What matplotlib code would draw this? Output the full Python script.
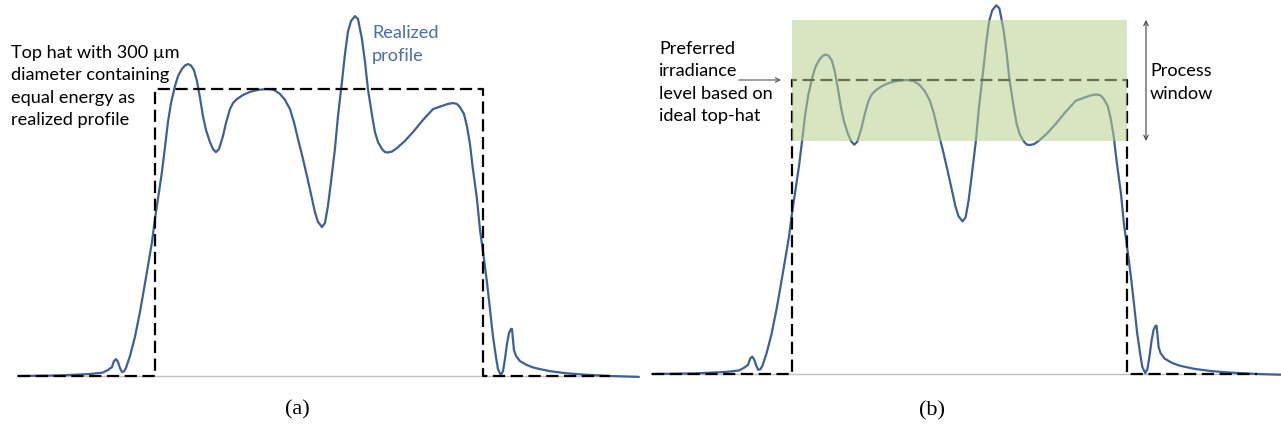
import matplotlib
matplotlib.use("Agg")
import matplotlib.pyplot as plt
from matplotlib.patches import Rectangle

# realized beam profile, x in um from beam centre, y normalised to top-hat level
prof_x = [-275.3, -236.9, -209.4, -197.5, -193.0, -189.3, -187.5, -185.6, -183.8, -182.0,
          -180.2, -178.3, -176.5, -172.8, -168.3, -163.7, -160.0, -156.4, -152.7, -150.0,
          -146.3, -143.6, -140.8, -138.1, -135.3, -131.7, -128.9, -125.3, -122.5, -119.8,
          -117.1, -114.3, -111.6, -108.8, -106.1, -103.3, -99.7, -96.9, -94.2, -91.4,
          -87.8, -85.0, -81.4, -78.6, -75.0, -69.5, -63.1, -55.8, -47.6, -41.2,
          -35.7, -31.1, -26.5, -22.9, -19.2, -14.6, -11.0, -7.3, -3.7, -0.9,
          2.7, 5.5, 8.2, 11.0, 14.6, 17.4, 21.0, 23.8, 26.5, 29.3,
          32.9, 35.7, 39.3, 42.1, 44.8, 48.5, 51.2, 54.0, 57.6, 60.4,
          63.1, 66.8, 71.3, 78.6, 86.0, 95.1, 104.3, 112.5, 118.0, 122.5,
          126.2, 128.9, 132.6, 135.3, 138.1, 140.8, 144.5, 147.2, 150.9, 153.6,
          156.4, 159.1, 161.9, 163.7, 166.4, 168.3, 170.1, 171.9, 173.8, 175.6,
          176.5, 177.4, 178.3, 180.2, 183.8, 190.2, 195.7, 202.1, 211.2, 225.0,
          241.4, 266.1, 292.6]
prof_y = [0.000, 0.002, 0.007, 0.012, 0.021, 0.031, 0.052, 0.059, 0.049, 0.028,
          0.014, 0.016, 0.028, 0.070, 0.136, 0.223, 0.303, 0.383, 0.467, 0.547,
          0.641, 0.711, 0.798, 0.885, 0.951, 1.010, 1.045, 1.070, 1.082, 1.087,
          1.082, 1.066, 1.028, 0.969, 0.906, 0.857, 0.815, 0.791, 0.780, 0.791,
          0.836, 0.882, 0.930, 0.951, 0.965, 0.979, 0.990, 0.997, 1.000, 0.997,
          0.983, 0.962, 0.930, 0.885, 0.826, 0.756, 0.697, 0.634, 0.571, 0.537,
          0.519, 0.533, 0.592, 0.676, 0.791, 0.906, 1.024, 1.122, 1.199, 1.237,
          1.254, 1.244, 1.174, 1.094, 1.000, 0.909, 0.850, 0.815, 0.791, 0.780,
          0.779, 0.782, 0.794, 0.819, 0.850, 0.892, 0.930, 0.941, 0.948, 0.951,
          0.948, 0.937, 0.913, 0.871, 0.808, 0.721, 0.617, 0.512, 0.408, 0.328,
          0.233, 0.139, 0.066, 0.024, 0.003, 0.017, 0.059, 0.111, 0.150, 0.164,
          0.164, 0.129, 0.091, 0.070, 0.052, 0.038, 0.030, 0.024, 0.017, 0.010,
          0.005, 0.000, -0.003]

# ideal top hat (300 um diameter)
hat_x = [-275, -150, -150, 150, 150, 266]
hat_y = [0, 0, 1, 1, 0, 0]

baseline_x = [-275, 290]
window = [0.793, 1.204]   # process window (normalised irradiance)

blue = '#3f6096'
txt_font = ['Lato', 'DejaVu Sans']

fig = plt.figure(figsize=(12.81, 4.27), dpi=100)
axa = fig.add_axes([0, 0, 640 / 1281, 1])
axb = fig.add_axes([640 / 1281, 0, 641 / 1281, 1])

for ax in (axa, axb):
    ax.plot(baseline_x, [0, 0], color='#c0c0c0', lw=1, zorder=1)
    ax.plot(prof_x, prof_y, color=blue, lw=1.6, zorder=2,
            solid_joinstyle='round', solid_capstyle='round')
    ax.plot(hat_x, hat_y, color='black', lw=1.6, dashes=(5.5, 2.5), zorder=3)
    ax.axis('off')

axa.set_xlim(-291.7, 293.6)
axa.set_ylim(-0.1742, 1.3136)
axb.set_xlim(-286.1, 287.9)
axb.set_ylim(-0.1769, 1.2755)

axb.add_patch(Rectangle((-150, window[0]), 300, window[1] - window[0],
                        facecolor='#b9d08e', edgecolor='none', alpha=0.55, zorder=4))

# process window arrow
axb.annotate('', xy=(167, window[1]), xytext=(167, window[0]),
             arrowprops=dict(arrowstyle='<->', color='#404040', lw=0.8,
                             mutation_scale=8, shrinkA=0, shrinkB=0))
# arrow to preferred level
axb.annotate('', xy=(-159.8, 1.0), xytext=(-197.5, 1.0),
             arrowprops=dict(arrowstyle='->', color='#555555', lw=0.8,
                             mutation_scale=8, shrinkA=0, shrinkB=0))

W, H = 1281, 427
fs = 13.1
ls = 1.47
fig.text(11 / W, 1 - 86.5 / H, 'Top hat with 300 µm\ndiameter containing\nequal energy as\nrealized profile',
         family=txt_font, fontsize=fs, va='center', ha='left', linespacing=ls)
fig.text(372 / W, 1 - 44.5 / H, 'Realized\nprofile', color='#4a6ea5',
         family=txt_font, fontsize=fs, va='center', ha='left', linespacing=ls)
fig.text(659 / W, 1 - 82.5 / H, 'Preferred\nirradiance\nlevel based on\nideal top-hat',
         family=txt_font, fontsize=fs, va='center', ha='left', linespacing=ls)
fig.text(1150 / W, 1 - 82.5 / H, 'Process\nwindow',
         family=txt_font, fontsize=fs, va='center', ha='left', linespacing=ls)

fig.text(297 / W, 1 - 410 / H, '(a)', family='Liberation Serif', fontsize=16,
         ha='center', va='center')
fig.text(932 / W, 1 - 411 / H, '(b)', family='Liberation Serif', fontsize=16,
         ha='center', va='center')

fig.savefig('out.png', dpi=100)
